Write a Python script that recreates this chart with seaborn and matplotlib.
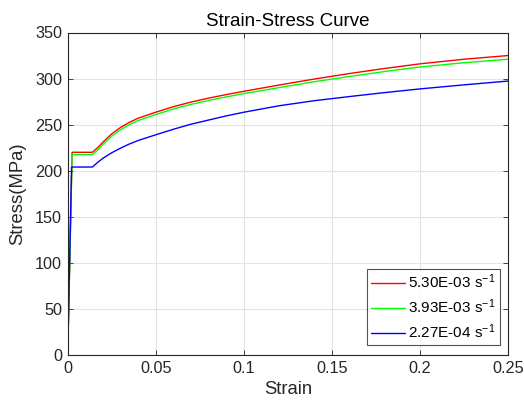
import matplotlib
matplotlib.use("Agg")
import matplotlib.pyplot as plt
import seaborn as sns
import pandas as pd

# Data
strain_530 = [0.0, 0.0025, 0.014, 0.017, 0.020, 0.025, 0.030, 0.035, 0.040, 0.050, 0.060,
              0.070, 0.080, 0.090, 0.100, 0.120, 0.140, 0.160, 0.180, 0.200, 0.225, 0.250]
stress_530 = [0, 220, 220, 225, 231, 240, 247, 252.5, 257, 263.5, 269.5,
              274.5, 278.8, 282.6, 286.2, 293, 299.5, 305.5, 311, 316, 321, 325]
strain_393 = [0.0, 0.0025, 0.014, 0.017, 0.020, 0.025, 0.030, 0.035, 0.040, 0.050, 0.060,
              0.070, 0.080, 0.090, 0.100, 0.120, 0.140, 0.160, 0.180, 0.200, 0.225, 0.250]
stress_393 = [0, 217.5, 217.5, 222.5, 228.5, 237.5, 244.5, 250, 254.5, 261, 267,
              272, 276.3, 280.1, 283.7, 290.2, 296.6, 302.3, 307.7, 312.6, 317.2, 321]
strain_227 = [0.0, 0.0022, 0.014, 0.017, 0.020, 0.025, 0.030, 0.035, 0.040, 0.050, 0.060,
              0.070, 0.080, 0.090, 0.100, 0.120, 0.140, 0.160, 0.180, 0.200, 0.225, 0.250]
stress_227 = [0, 204, 204, 209, 213.5, 219.5, 224.5, 229, 232.8, 239, 245,
              250.5, 255, 259.5, 263.5, 270.5, 276, 280.5, 284.8, 288.8, 293.2, 297.3]
labels = ["5.30E-03 s$^{-1}$", "3.93E-03 s$^{-1}$", "2.27E-04 s$^{-1}$"]
colors = ["#FF0000", "#00FF00", "#0000FF"]
xticks = [0, 0.05, 0.1, 0.15, 0.2, 0.25]
xticklabels = ["0", "0.05", "0.1", "0.15", "0.2", "0.25"]
yticks = [0, 50, 100, 150, 200, 250, 300, 350]

df = pd.concat([
    pd.DataFrame({"Strain": strain_530, "Stress": stress_530, "rate": labels[0]}),
    pd.DataFrame({"Strain": strain_393, "Stress": stress_393, "rate": labels[1]}),
    pd.DataFrame({"Strain": strain_227, "Stress": stress_227, "rate": labels[2]}),
], ignore_index=True)

sns.set_theme(style="white")
plt.rcParams["font.family"] = ["Liberation Sans", "DejaVu Sans"]
plt.rcParams["mathtext.default"] = "regular"

fig = plt.figure(figsize=(5.24, 4.07), dpi=100)
ax = fig.add_axes([67.7 / 524, 1 - 355 / 407, (508.2 - 67.7) / 524, (355 - 32.5) / 407])

sns.lineplot(data=df, x="Strain", y="Stress", hue="rate", hue_order=labels,
             palette=colors, sort=False, estimator=None, linewidth=1.0, ax=ax)

ax.set_xlim(0, 0.25)
ax.set_ylim(0, 350)
ax.set_xticks(xticks)
ax.set_xticklabels(xticklabels)
ax.set_yticks(yticks)
ax.grid(True, color="#E3E3E3", linewidth=0.8)
ax.set_axisbelow(True)
for s in ax.spines.values():
    s.set_color("#262626")
    s.set_linewidth(0.8)
    s.set_visible(True)
ax.tick_params(direction="in", length=3.5, width=0.6, color="#262626",
               labelsize=11.7, labelcolor="#262626", top=True, right=True,
               bottom=True, left=True, pad=4)
ax.set_xlabel("Strain", fontsize=13.3, color="#262626", labelpad=4)
ax.set_ylabel("Stress(MPa)", fontsize=13.3, color="#262626", labelpad=6)
ax.set_title("Strain-Stress Curve", fontsize=13.5, color="#000000", pad=5)

leg = ax.legend(loc="lower right", bbox_to_anchor=(0.981, 0.031), borderaxespad=0,
                fontsize=11, frameon=True, fancybox=False, edgecolor="#262626",
                handlelength=2.25, handletextpad=0.2, labelspacing=0.42,
                borderpad=0.25, title=None)
leg.get_frame().set_linewidth(0.8)
for t in leg.get_texts():
    t.set_color("#000000")

fig.savefig("out.png", dpi=100)
